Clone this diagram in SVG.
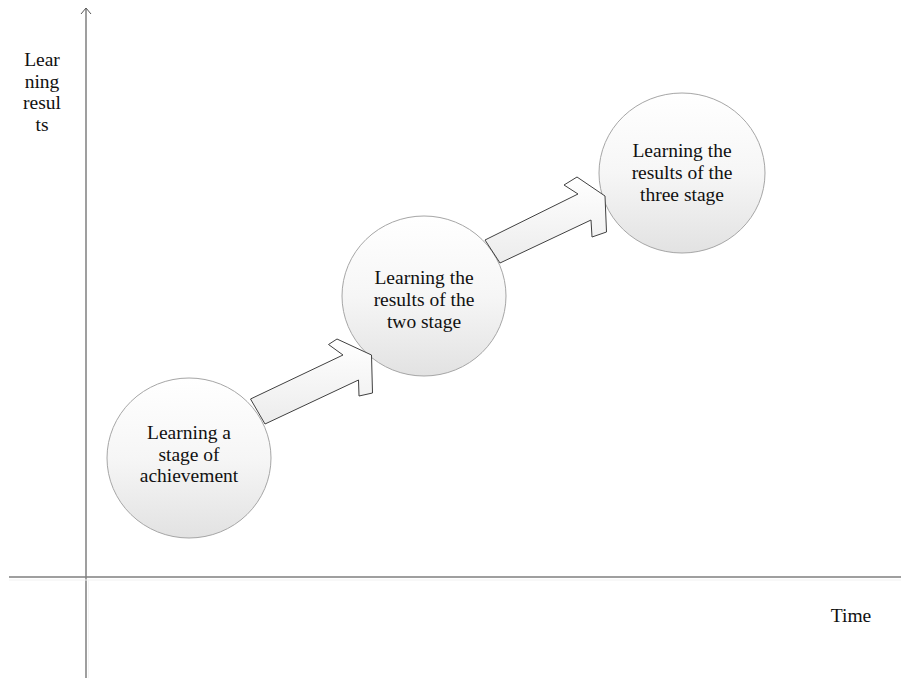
<svg xmlns="http://www.w3.org/2000/svg" width="901" height="678" viewBox="0 0 901 678">
<defs>
<linearGradient id="cg" x1="0" y1="0" x2="0" y2="1">
<stop offset="0" stop-color="#ffffff"/>
<stop offset="0.5" stop-color="#f6f6f6"/>
<stop offset="1" stop-color="#e2e2e2"/>
</linearGradient>
<linearGradient id="ag" x1="0" y1="0" x2="0" y2="1">
<stop offset="0" stop-color="#ffffff"/>
<stop offset="1" stop-color="#ececec"/>
</linearGradient>
<style>
.node{fill:url(#cg);stroke:#a6a6a6;stroke-width:1}
.arr{fill:url(#ag);stroke:#404040;stroke-width:1;stroke-linejoin:miter}
.axis{stroke:#7f7f7f;stroke-width:1.5;fill:none}
.t{font-family:"Liberation Serif","Times New Roman",serif;font-size:19.5px;fill:#111;text-anchor:middle}
</style>
</defs>
<rect width="901" height="678" fill="#ffffff"/>
<g id="axes">
<line class="axis" x1="86" y1="678" x2="86" y2="9"/>
<path d="M81,14 L86,8 L91,14" fill="none" stroke="#555" stroke-width="1"/>
<line class="axis" x1="9" y1="577" x2="901" y2="577"/>
<line x1="9" y1="580" x2="901" y2="580" stroke="#f2f2f2" stroke-width="1"/>
<line x1="88.5" y1="580" x2="88.5" y2="678" stroke="#f4f4f4" stroke-width="1"/>
</g>
<g id="label-y">
<text class="t" x="42" y="66">Lear</text>
<text class="t" x="42" y="88">ning</text>
<text class="t" x="42" y="109">resul</text>
<text class="t" x="42" y="131">ts</text>
</g>
<g id="label-x">
<text class="t" x="851" y="622">Time</text>
</g>
<g id="node1">
<ellipse class="node" cx="189" cy="458" rx="82" ry="80"/>
<text class="t" x="189" y="439">Learning a</text>
<text class="t" x="189" y="461">stage of</text>
<text class="t" x="189" y="482">achievement</text>
</g>
<g id="node2">
<ellipse class="node" cx="424" cy="296" rx="82" ry="80"/>
<text class="t" x="424" y="284">Learning the</text>
<text class="t" x="424" y="306">results of the</text>
<text class="t" x="424" y="328">two stage</text>
</g>
<g id="node3">
<ellipse class="node" cx="682" cy="173" rx="83" ry="80"/>
<text class="t" x="682" y="157">Learning the</text>
<text class="t" x="682" y="179">results of the</text>
<text class="t" x="682" y="201">three stage</text>
</g>
<g id="connectors">
<polygon class="arr" points="250.5,399 343,355 328.5,344.5 337,339 371.5,355 372.5,393 359,396 358.5,380 265,424"/>
<polygon class="arr" points="485,240 578,194 564,185 577,177 605,196 606.5,232 592,237 591,220 500,263"/>
</g>
</svg>
